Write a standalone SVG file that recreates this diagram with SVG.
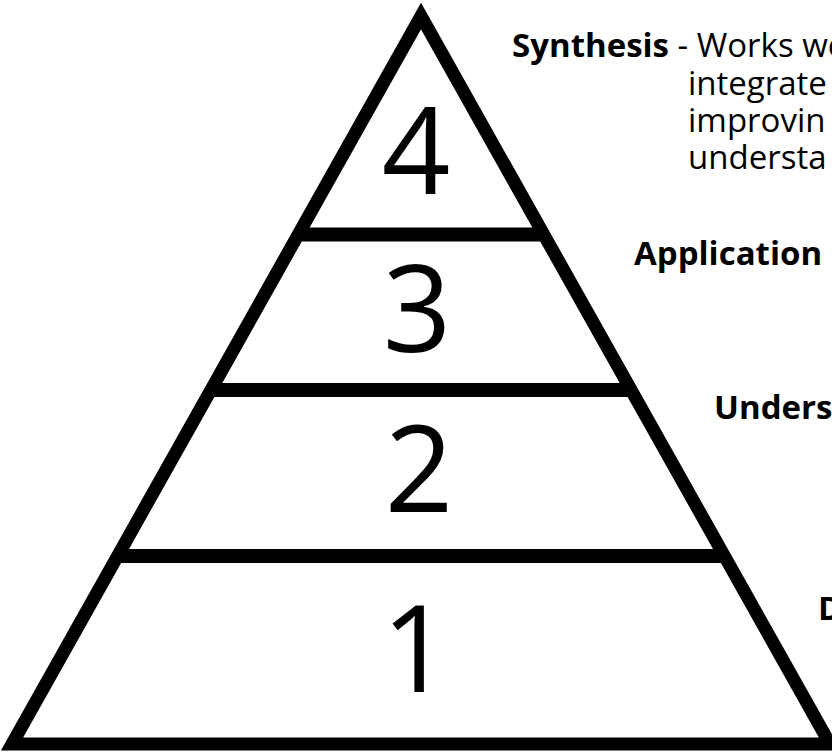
<svg xmlns="http://www.w3.org/2000/svg" width="832" height="755" viewBox="0 0 832 755">
  <style>
    .edge { fill: none; stroke: #000; stroke-width: 13; stroke-linejoin: miter; stroke-miterlimit: 10; }
    .bar { stroke: #000; stroke-width: 14; stroke-linecap: butt; }
    .num { font-family: "Open Sans", "Noto Sans", "Liberation Sans", sans-serif; font-size: 120px; fill: #000; text-anchor: middle; }
    .lbl { font-family: "Open Sans", "Noto Sans", "Liberation Sans", sans-serif; font-size: 33px; fill: #000; }
    .b { font-weight: bold; }
  </style>
  <rect width="832" height="755" fill="#fff"/>
  <g id="pyramid">
    <polygon class="edge" points="421,16 830,744 12,744"/>
    <line class="bar" x1="298" y1="234.5" x2="544" y2="234.5"/>
    <line class="bar" x1="211" y1="390" x2="631" y2="390"/>
    <line class="bar" x1="118" y1="556" x2="724" y2="556"/>
  </g>
  <g id="level4"><text class="num" x="416" y="194">4</text></g>
  <g id="level3"><text class="num" x="417" y="352">3</text></g>
  <g id="level2"><text class="num" x="419" y="512">2</text></g>
  <g id="level1"><text class="num" x="416" y="692">1</text></g>
  <g id="labels">
    <text class="lbl" x="512" y="57"><tspan class="b">Synthesis</tspan> - Works we</text>
    <text class="lbl" x="688" y="95">integrate</text>
    <text class="lbl" x="688" y="132">improvin</text>
    <text class="lbl" x="688" y="169">understa</text>
    <text class="lbl b" x="634" y="265">Application</text>
    <text class="lbl b" x="714" y="419">Unders</text>
    <text class="lbl b" x="818" y="620">D</text>
  </g>
</svg>
